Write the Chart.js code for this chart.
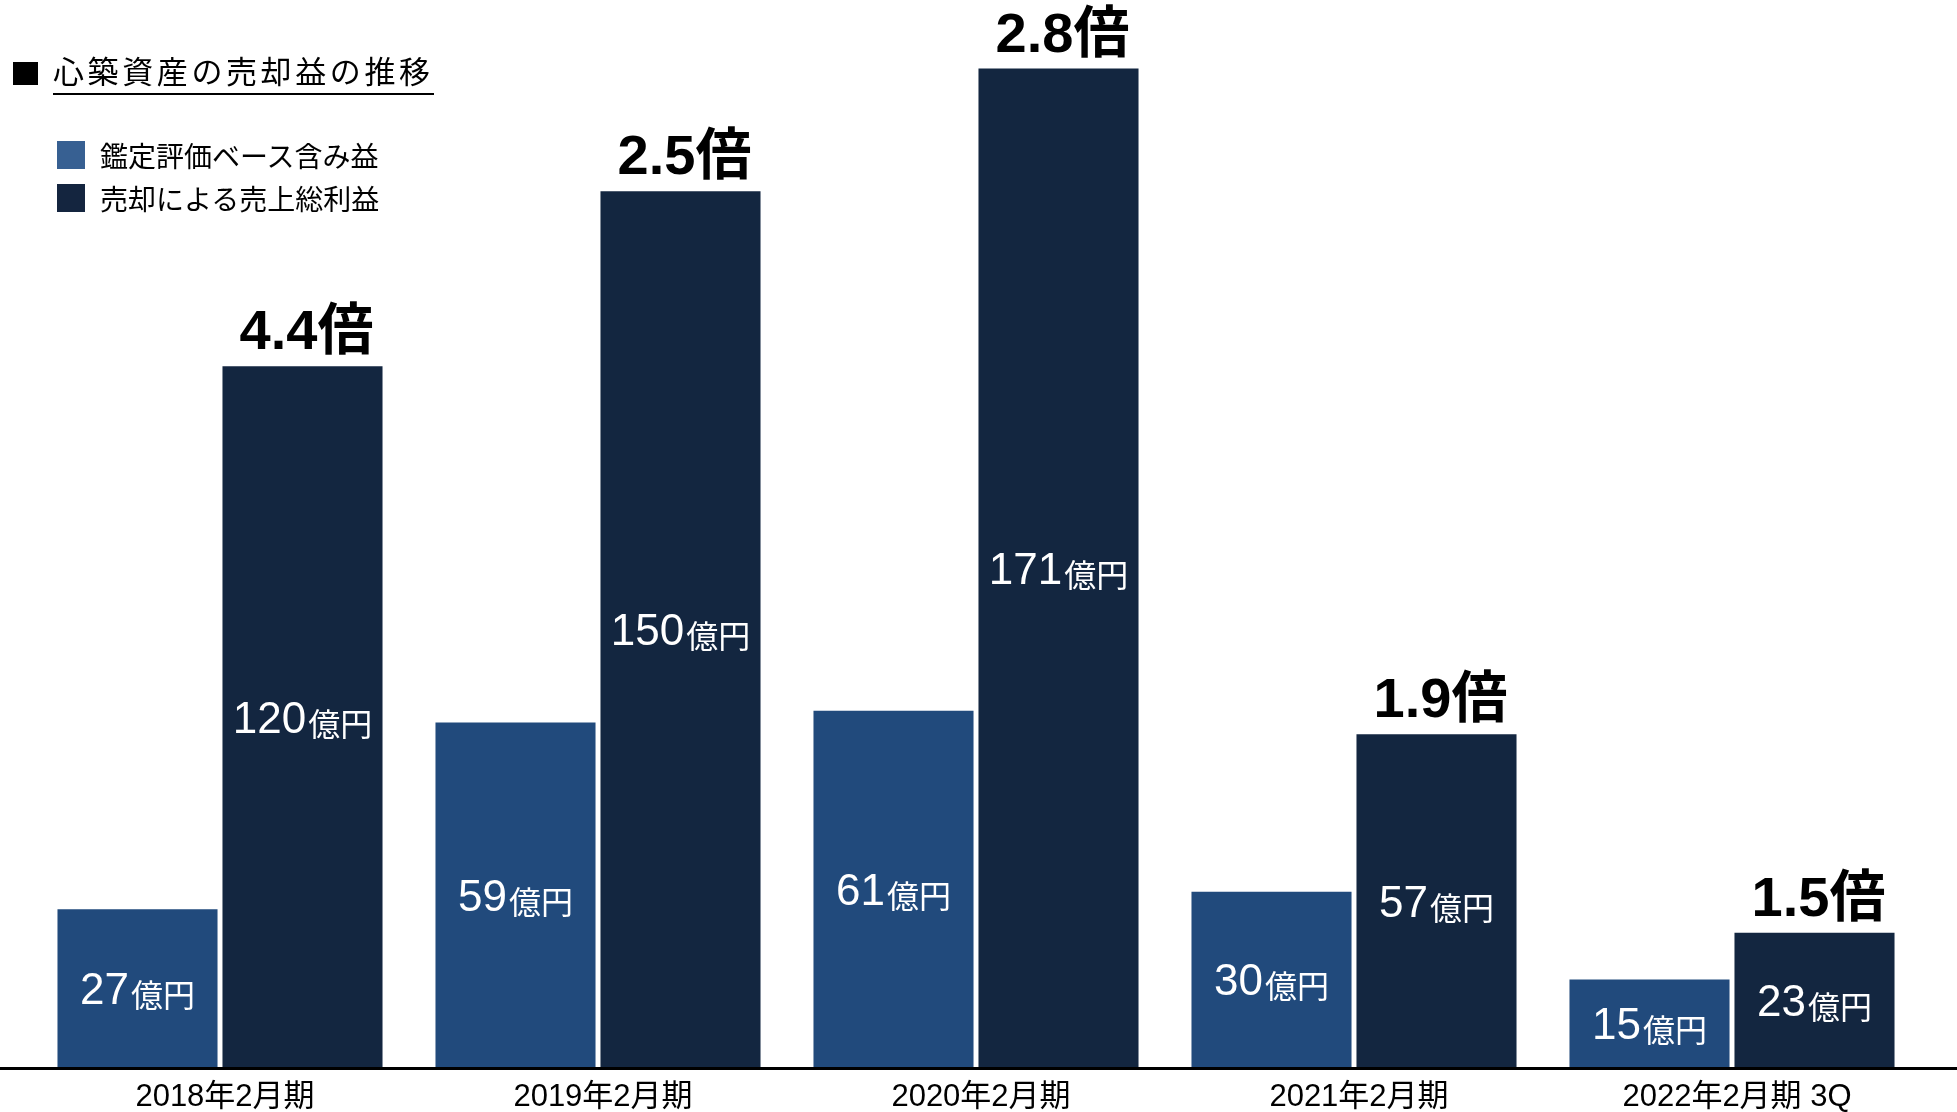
<!DOCTYPE html>
<html lang="ja">
<head>
<meta charset="utf-8">
<script src="https://cdn.jsdelivr.net/npm/chart.js@4.4.0/dist/chart.umd.min.js"></script>
<style>
  body { margin: 0; background: #fff; overflow: hidden; }
  #wrap { position: relative; width: 1957px; height: 1112px; }
  #title {
    position: absolute; left: 13px; top: 52px;
    font-family: "Noto Sans CJK JP", sans-serif; font-size: 31px; line-height: 36px;
    color: #000; white-space: nowrap;
  }
  #title .sq { display: inline-block; width: 25px; height: 23px; background: #000; margin-right: 15px; vertical-align: -2px; }
  #title .txt { letter-spacing: 3.6px; border-bottom: 2px solid #000; padding-bottom: 1px; }
  #legend { position: absolute; left: 57px; top: 141px; font-family: "Noto Sans CJK JP", sans-serif; font-size: 28px; color: #000; }
  #legend .item { display: flex; align-items: center; height: 28px; margin-bottom: 15px; white-space: nowrap; }
  #legend .box { width: 28px; height: 28px; margin-right: 15px; }
</style>
</head>
<body>
<div id="wrap">
  <canvas id="chart" width="1957" height="1112"></canvas>
  <div id="title"><span class="sq"></span><span class="txt">心築資産の売却益の推移</span></div>
  <div id="legend"></div>
</div>
<script>
// ===================== DATOS =====================
const categories = ["2018年2月期", "2019年2月期", "2020年2月期", "2021年2月期", "2022年2月期 3Q"];
const seriesNames = ["鑑定評価ベース含み益", "売却による売上総利益"];
const appraisalGain = [27, 59, 61, 30, 15];   // 億円
const grossProfit = [120, 150, 171, 57, 23];  // 億円
const multiples = ["4.4", "2.5", "2.8", "1.9", "1.5"];
const unit = "億円";

const barColors = ["#214a7c", "#132640"];
const legendColors = ["#376092", "#14253f"];
const FONT = "'Liberation Sans', 'Noto Sans CJK JP', sans-serif";

// ===================== LEYENDA HTML =====================
const legendDiv = document.getElementById("legend");
seriesNames.forEach((name, i) => {
  const item = document.createElement("div");
  item.className = "item";
  item.innerHTML = `<span class="box" style="background:${legendColors[i]}"></span><span>${name}</span>`;
  legendDiv.appendChild(item);
});

// ===================== ETIQUETAS =====================
const labelPlugin = {
  id: "barLabels",
  afterDatasetsDraw(chart) {
    const ctx = chart.ctx;
    ctx.save();
    chart.data.datasets.forEach((ds, di) => {
      const meta = chart.getDatasetMeta(di);
      meta.data.forEach((bar, i) => {
        const num = String(ds.data[i]);
        const midY = (bar.y + bar.base) / 2;
        ctx.fillStyle = "#fff";
        ctx.textBaseline = "alphabetic";
        ctx.font = `44px ${FONT}`;
        const wNum = ctx.measureText(num).width;
        ctx.font = `32px 'Noto Sans CJK JP', sans-serif`;
        const wUnit = ctx.measureText(unit).width;
        const x0 = bar.x - (wNum + wUnit + 2) / 2;
        const baseY = midY + 16;
        ctx.textAlign = "left";
        ctx.font = `44px ${FONT}`;
        ctx.fillText(num, x0, baseY);
        ctx.font = `32px 'Noto Sans CJK JP', sans-serif`;
        ctx.fillText(unit, x0 + wNum + 2, baseY + 3);

        if (di === 1) {
          ctx.fillStyle = "#000";
          ctx.textAlign = "center";
          ctx.font = `bold 56px ${FONT}`;
          ctx.fillText(multiples[i] + "倍", bar.x + 4, bar.y - 17);
        }
      });
    });
    ctx.restore();
  },
  afterDraw(chart) {
    const ctx = chart.ctx;
    const y0 = chart.scales.y.getPixelForValue(0);
    ctx.save();
    ctx.fillStyle = "#000";
    ctx.fillRect(0, y0, chart.width, 3);
    ctx.restore();
  },
};

// ===================== GRAFICO =====================
new Chart(document.getElementById("chart"), {
  type: "bar",
  data: {
    labels: categories,
    datasets: [
      { label: seriesNames[0], data: appraisalGain, backgroundColor: barColors[0] },
      { label: seriesNames[1], data: grossProfit, backgroundColor: barColors[1] },
    ],
  },
  options: {
    responsive: false,
    devicePixelRatio: 1,
    animation: false,
    categoryPercentage: 0.873,
    barPercentage: 0.97,
    layout: { padding: { left: 31, right: 36, top: 16, bottom: 0 } },
    plugins: { legend: { display: false }, tooltip: { enabled: false } },
    scales: {
      x: {
        grid: { display: false, drawTicks: false },
        border: { display: false },
        ticks: { color: "#000", padding: 12, labelOffset: 5, font: { family: FONT, size: 31, lineHeight: 1.2 }, maxRotation: 0 },
        afterFit(scale) { scale.height = 45; },
      },
      y: { display: false, min: 0, max: 180 },
    },
  },
  plugins: [labelPlugin],
});
</script>
</body>
</html>
